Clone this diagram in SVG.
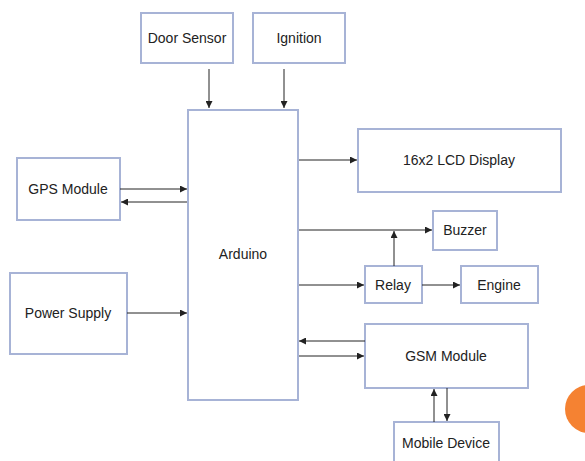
<svg xmlns="http://www.w3.org/2000/svg" width="585" height="461" viewBox="0 0 585 461">
<defs>
<style>
.box{fill:#fff;stroke:#a7b3d6;stroke-width:2}
.t{font-family:"Liberation Sans",Arial,sans-serif;font-size:14px;fill:#222;text-anchor:middle;dominant-baseline:central}
.c{stroke:#222;stroke-width:1;fill:none;marker-end:url(#ah)}
</style>
<marker id="ah" viewBox="0 0 10 10" refX="10" refY="5" markerWidth="7" markerHeight="7" markerUnits="userSpaceOnUse" orient="auto"><path d="M0,0 L10,5 L0,10 z" fill="#222"/></marker>
</defs>
<rect width="585" height="461" fill="#fff"/>
<circle cx="589" cy="409" r="24" fill="#f58232"/>
<g id="door"><rect class="box" x="141" y="13" width="92" height="50"/><text class="t" x="187" y="38">Door Sensor</text></g>
<g id="ignition"><rect class="box" x="253" y="13" width="92" height="50"/><text class="t" x="299" y="38">Ignition</text></g>
<g id="arduino"><rect class="box" x="188" y="110" width="110" height="290"/><text class="t" x="243" y="254">Arduino</text></g>
<g id="gps"><rect class="box" x="17" y="158" width="103" height="62"/><text class="t" x="68" y="189">GPS Module</text></g>
<g id="power"><rect class="box" x="10" y="273" width="117" height="81"/><text class="t" x="68" y="313">Power Supply</text></g>
<g id="lcd"><rect class="box" x="358" y="129" width="203" height="63"/><text class="t" x="459" y="160">16x2 LCD Display</text></g>
<g id="buzzer"><rect class="box" x="433" y="211" width="64" height="39"/><text class="t" x="465" y="230">Buzzer</text></g>
<g id="relay"><rect class="box" x="365" y="266" width="57" height="37"/><text class="t" x="393" y="285">Relay</text></g>
<g id="engine"><rect class="box" x="461" y="266" width="77" height="37"/><text class="t" x="499" y="285">Engine</text></g>
<g id="gsm"><rect class="box" x="365" y="324" width="163" height="64"/><text class="t" x="446" y="356">GSM Module</text></g>
<g id="mobile"><rect class="box" x="394" y="422" width="105" height="50"/><text class="t" x="446" y="443">Mobile Device</text></g>
<g id="connectors">
<path class="c" d="M209,69 V108"/>
<path class="c" d="M284,69 V108"/>
<path class="c" d="M120,189 H187"/>
<path class="c" d="M187,202 H121"/>
<path class="c" d="M127,313 H187"/>
<path class="c" d="M299,160 H357"/>
<path class="c" d="M299,230 H432"/>
<path class="c" d="M299,285 H364"/>
<path class="c" d="M394,266 V231"/>
<path class="c" d="M422,285 H460"/>
<path class="c" d="M365,341 H299"/>
<path class="c" d="M299,356 H364"/>
<path class="c" d="M434,422 V389"/>
<path class="c" d="M447,388 V421"/>
</g>
</svg>
